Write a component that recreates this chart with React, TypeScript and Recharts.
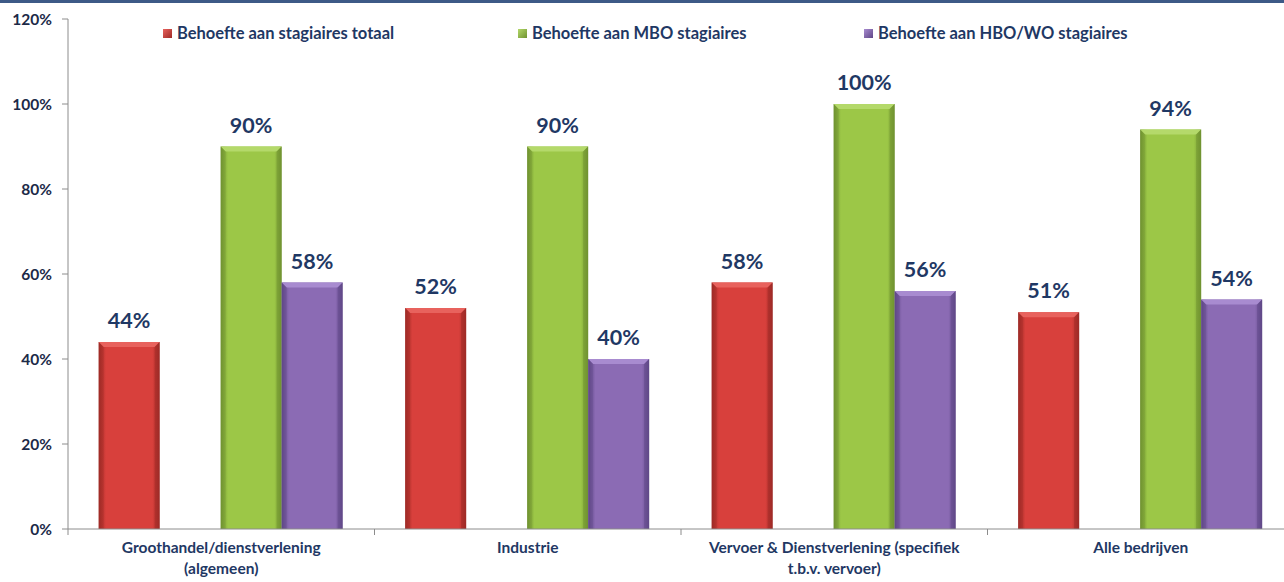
import { BarChart, Bar, XAxis, YAxis, LabelList } from "recharts";

const categories = [
  "Groothandel/dienstverlening|(algemeen)",
  "Industrie",
  "Vervoer & Dienstverlening (specifiek|t.b.v. vervoer)",
  "Alle bedrijven",
];
const totaal = [0.44, 0.52, 0.58, 0.51];
const mbo = [0.9, 0.9, 1.0, 0.94];
const hbo = [0.58, 0.4, 0.56, 0.54];
const yTicks = [0, 0.2, 0.4, 0.6, 0.8, 1.0, 1.2];

const seriesNames = [
  "Behoefte aan stagiaires totaal",
  "Behoefte aan MBO stagiaires",
  "Behoefte aan HBO/WO stagiaires",
];

const data = categories.map((c, i) => ({
  cat: c,
  totaal: totaal[i],
  leeg: null,
  mbo: mbo[i],
  hbo: hbo[i],
}));

const W = 1294;
const H = 582;
const LEFT = 68;
const BAND = (W - LEFT) / categories.length;
const NAVY = "#1f3864";
const FONT = "Lato, 'Open Sans', sans-serif";

const colors = {
  red: { main: "#d8403c", dark: "#9e2a26", light: "#e8625d" },
  green: { main: "#9cc747", dark: "#6f9230", light: "#b4d96a" },
  purple: { main: "#8b6bb4", dark: "#5f4787", light: "#a88bd0" },
};

function BevelBar(props: any) {
  const { x, y, width, height, tone } = props;
  if (!height || height <= 0) return null;
  const c = (colors as any)[tone];
  const b = 5;
  return (
    <g>
      <rect x={x} y={y} width={width} height={height} fill={`url(#grad-${tone})`} />
      <polygon
        points={`${x},${y} ${x + width},${y} ${x + width - b},${y + b} ${x + b},${y + b}`}
        fill={c.light}
      />
      <polygon
        points={`${x},${y} ${x + b},${y + b} ${x + b},${y + height} ${x},${y + height}`}
        fill={c.dark}
        opacity={0.35}
      />
      <polygon
        points={`${x + width},${y} ${x + width - b},${y + b} ${x + width - b},${y + height} ${x + width},${y + height}`}
        fill={c.dark}
        opacity={0.5}
      />
    </g>
  );
}

function CatTick({ x, y, payload, index }: any) {
  const lines = String(payload.value).split("|");
  const left = x - BAND / 2;
  return (
    <g>
      <line x1={left} y1={y} x2={left} y2={y + 6} stroke="#8c8c8c" />
      {index === categories.length - 1 && (
        <line x1={x + BAND / 2} y1={y} x2={x + BAND / 2} y2={y + 6} stroke="#8c8c8c" />
      )}
      <text
        x={x}
        y={y + 24}
        textAnchor="middle"
        fill={NAVY}
        fontFamily={FONT}
        fontWeight="bold"
        fontSize={15.5}
      >
        {lines.map((l, i) => (
          <tspan key={i} x={x} dy={i === 0 ? 0 : 21}>
            {l}
          </tspan>
        ))}
      </text>
    </g>
  );
}

const legendItems = [
  { name: seriesNames[0], tone: "red", x: 163 },
  { name: seriesNames[1], tone: "green", x: 518 },
  { name: seriesNames[2], tone: "purple", x: 864 },
];

const pct = (v: any) => `${Math.round(Number(v) * 100)}%`;

const labelProps = {
  position: "top" as const,
  offset: 14,
  formatter: pct,
  fill: NAVY,
  fontSize: 21.5,
  fontWeight: "bold",
  fontFamily: FONT,
};

export default function App() {
  return (
    <div style={{ position: "relative", width: 1284, height: H, overflow: "hidden", background: "#fff" }}>
      <style>{`body{margin:0}`}</style>
      <div style={{ position: "absolute", left: 0, top: 0, width: 1284, height: 3, background: "#3d5a87" }} />
      <BarChart
        width={W}
        height={H}
        data={data}
        margin={{ top: 19, right: 0, left: 0, bottom: 0 }}
        barCategoryGap="10%"
        barGap={0}
      >
        <defs>
          {Object.entries(colors).map(([k, c]) => (
            <linearGradient key={k} id={`grad-${k}`} x1="0" y1="0" x2="1" y2="0">
              <stop offset="0" stopColor={c.dark} />
              <stop offset="0.12" stopColor={c.main} />
              <stop offset="0.5" stopColor={c.main} />
              <stop offset="0.88" stopColor={c.main} />
              <stop offset="1" stopColor={c.dark} />
            </linearGradient>
          ))}
        </defs>
        <XAxis
          dataKey="cat"
          interval={0}
          height={53}
          stroke="#8c8c8c"
          tickLine={false}
          tickSize={0}
          tickMargin={0}
          tick={<CatTick />}
        />
        <YAxis
          width={LEFT}
          domain={[0, 1.2]}
          ticks={yTicks}
          stroke="#8c8c8c"
          tickSize={6}
          tickMargin={10}
          tickFormatter={pct}
          tick={{ fill: "#1c2a48", fontSize: 15.5, fontWeight: "bold", fontFamily: FONT }}
        />
        <Bar dataKey="totaal" isAnimationActive={false} shape={<BevelBar tone="red" />}>
          <LabelList dataKey="totaal" {...labelProps} />
        </Bar>
        <Bar dataKey="leeg" isAnimationActive={false} legendType="none" />
        <Bar dataKey="mbo" isAnimationActive={false} shape={<BevelBar tone="green" />}>
          <LabelList dataKey="mbo" {...labelProps} />
        </Bar>
        <Bar dataKey="hbo" isAnimationActive={false} shape={<BevelBar tone="purple" />}>
          <LabelList dataKey="hbo" {...labelProps} />
        </Bar>
      </BarChart>
      {legendItems.map((it) => (
        <div
          key={it.name}
          style={{
            position: "absolute",
            left: it.x,
            top: 22,
            height: 22,
            display: "flex",
            alignItems: "center",
            fontFamily: FONT,
            fontWeight: "bold",
            fontSize: 16.5,
            color: NAVY,
            whiteSpace: "nowrap",
          }}
        >
          <span
            style={{
              display: "inline-block",
              width: 9,
              height: 9,
              marginRight: 5,
              background: `linear-gradient(135deg, ${(colors as any)[it.tone].light}, ${(colors as any)[it.tone].dark})`,
            }}
          />
          {it.name}
        </div>
      ))}
    </div>
  );
}
